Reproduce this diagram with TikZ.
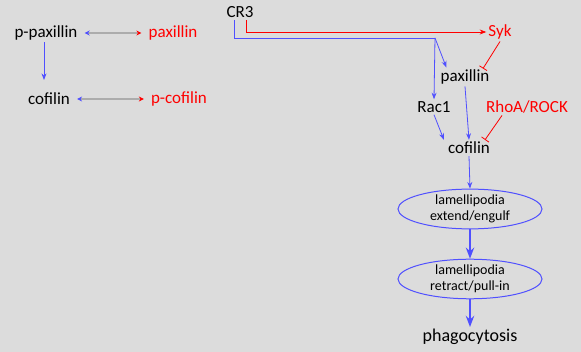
\documentclass[tikz,border=0pt]{standalone}
\usepackage{fontspec}
\setmainfont{Carlito}
\usetikzlibrary{arrows.meta,shapes.geometric}
\definecolor{bgray}{RGB}{220,220,220}
\definecolor{pblue}{RGB}{80,80,255}
\definecolor{pred}{RGB}{255,0,0}
\begin{document}
\begin{tikzpicture}[x=1pt, y=-1pt, >=Stealth,
    txt/.style={font=\fontsize{17}{19}\selectfont, inner sep=2pt},
    rtxt/.style={txt, text=pred},
    act/.style={->, draw=pblue, line width=0.8pt},
    bigact/.style={->, draw=pblue, line width=1.8pt},
    inh/.style={-{Bar[width=9pt]}, draw=pred, line width=0.8pt},
    swap/.style={{Stealth[pblue,length=5pt,width=5pt]}-{Stealth[pred,length=5pt,width=5pt]}, draw=gray!65, line width=1.3pt},
    lam/.style={ellipse, draw=pblue, line width=1pt, minimum width=144pt, minimum height=37pt,
      align=center, font=\fontsize{14}{16}\selectfont, inner sep=0pt}]
      \fill[bgray] (0,0) rectangle (581,352);

      % Left block
      \node[txt] (pp) at (46,33) {p-paxillin};
      \node[rtxt] (pax) at (173,33) {paxillin};
      \node[txt] (cof) at (49,99) {cofilin};
      \node[rtxt] (pcof) at (179,99) {p-cofilin};
      \draw[act] (pp.south-|44,0) -- (44,80);
      \draw[swap] ([xshift=5pt]pp.east) -- ([xshift=-5pt]pax.west);
      \draw[swap] ([xshift=5pt]cof.east) -- ([xshift=-5pt]pcof.west);

      % Right pathway
      \node[txt] (cr3) at (240,12) {CR3};
      \node[rtxt] (syk) at (500,32) {Syk};
      \node[txt] (pax2) at (465,77) {paxillin};
      \node[txt] (rac) at (434,107) {Rac1};
      \node[rtxt] (rho) at (527,107) {RhoA/ROCK};
      \node[txt] (cof2) at (469,148) {cofilin};
      \node[lam] (lam1) at (470,209) {lamellipodia\\extend/engulf};
      \node[lam] (lam2) at (470,279) {lamellipodia\\retract/pull-in};
      \node[txt, font=\fontsize{18}{20}\selectfont] (phag) at (470,337) {phagocytosis};
      \coordinate (split) at (435,38);

      \draw[pblue, line width=0.8pt] ([xshift=-6pt]cr3.south) |- (split);
      \draw[act] (split) -- ([xshift=8pt]pax2.north west);
      \draw[act] (split) -- (rac.north);
      \draw[->, draw=pred, line width=0.8pt] ([xshift=6pt]cr3.south) |- (syk.west);
      \draw[inh] (syk.south) -- ([xshift=18pt,yshift=-1pt]pax2.north);
      \draw[act] (pax2.south) -- (cof2.north);
      \draw[act] (rac.south) -- ([xshift=-2pt]cof2.north west);
      \draw[inh] ([xshift=-25pt]rho.south) -- ([xshift=16pt,yshift=0pt]cof2.north);
      \draw[act] (cof2.south) -- (lam1.north);
      \draw[bigact] (lam1.south) -- (lam2.north);
      \draw[bigact] (lam2.south) -- (phag.north);
\end{tikzpicture}
\end{document}
